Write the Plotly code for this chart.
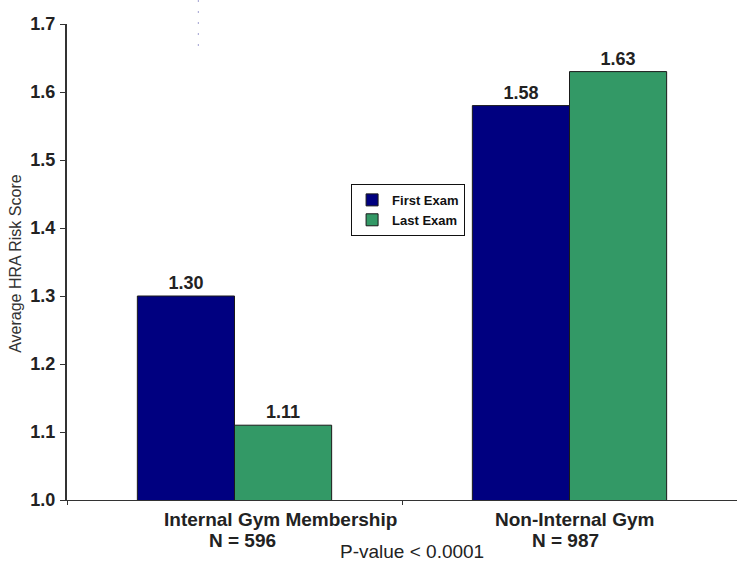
import plotly.graph_objects as go

# Data
categories = ["Internal Gym Membership", "Non-Internal Gym"]
group_sizes = ["N = 596", "N = 987"]
first_exam = [1.30, 1.58]
last_exam = [1.11, 1.63]
series_names = ["First Exam", "Last Exam"]
y_ticks = [1.0, 1.1, 1.2, 1.3, 1.4, 1.5, 1.6, 1.7]
p_value_text = "P-value < 0.0001"

FONT = "Liberation Sans, Arial, sans-serif"
NAVY = "#000080"
GREEN = "#339966"
INK = "#222222"

fig = go.Figure()
for name, vals, color in [(series_names[0], first_exam, NAVY),
                          (series_names[1], last_exam, GREEN)]:
    fig.add_trace(go.Bar(
        name=name, x=categories, y=vals,
        marker=dict(color=color, line=dict(color="#1a1a1a", width=1)),
        text=[f"{v:.2f}" for v in vals], textposition="outside",
        textfont=dict(family=FONT, size=18, color=INK),
        texttemplate="<b>%{text}</b>", cliponaxis=False,
    ))

W, H = 737, 562
L, R, T, B = 67, 0, 24, 62

fig.update_layout(
    width=W, height=H,
    margin=dict(l=L, r=R, t=T, b=B),
    paper_bgcolor="white", plot_bgcolor="white",
    barmode="group", bargap=0.42, bargroupgap=0,
    font=dict(family=FONT, color=INK),
    showlegend=True,
    legend=dict(
        x=0.424, y=0.664, xanchor="left", yanchor="top",
        bgcolor="white", bordercolor="#111111", borderwidth=1,
        font=dict(family=FONT, size=13, color="#111111", weight="bold"),
        itemwidth=30, tracegroupgap=0,
    ),
    xaxis=dict(
        showticklabels=False, tickson="boundaries",
        ticks="outside", ticklen=4, tickcolor="#333333",
        showline=True, linecolor="#333333", linewidth=1,
        showgrid=False, zeroline=False,
    ),
    yaxis=dict(
        range=[1.0, 1.7], tickvals=y_ticks,
        ticktext=[f"<b>{v:.1f}</b>" for v in y_ticks],
        ticks="outside", ticklen=5, tickcolor="#333333",
        showline=True, linecolor="#333333", linewidth=2,
        showgrid=False, zeroline=False,
        tickfont=dict(family=FONT, size=18, color=INK),
        ticklabelstandoff=1,
    ),
)

# axis title
fig.add_annotation(
    text="Average HRA Risk Score", textangle=-90,
    xref="paper", yref="paper", x=-0.077, y=0.497,
    xanchor="center", yanchor="middle",
    showarrow=False, font=dict(family=FONT, size=16, color="#333333"),
)

# category labels with group sizes
label_shifts = [46, 5]
n_shifts = [8, -4]
for cat, n, s1, s2 in zip(categories, group_sizes, label_shifts, n_shifts):
    fig.add_annotation(
        text=f"<b>{cat}</b>", x=cat, xref="x", yref="paper", y=-0.040,
        yanchor="middle", xshift=s1, showarrow=False,
        font=dict(family=FONT, size=19, color=INK),
    )
    fig.add_annotation(
        text=f"<b>{n}</b>", x=cat, xref="x", yref="paper", y=-0.086,
        yanchor="middle", xshift=s2, showarrow=False,
        font=dict(family=FONT, size=19, color=INK),
    )

fig.add_annotation(
    text=p_value_text, xref="paper", yref="paper", x=0.515, y=-0.108,
    yanchor="middle", showarrow=False,
    font=dict(family=FONT, size=19, color=INK),
)

# faint dotted guide at the top
fig.add_shape(
    type="line", xref="paper", yref="paper",
    x0=0.196, x1=0.196, y0=1.0 + 24 / 476, y1=1.0 - 24 / 476,
    line=dict(color="#a0a0d0", width=1, dash="2px,9px"),
)

fig.write_html("out.html")
